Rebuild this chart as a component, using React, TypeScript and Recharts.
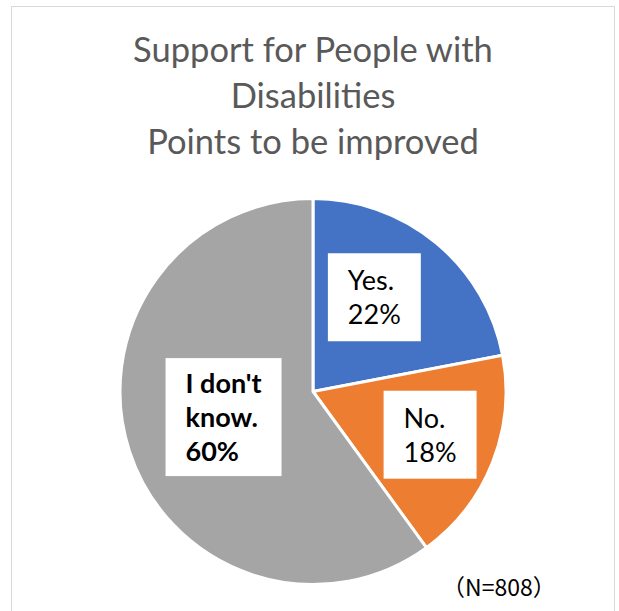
import { PieChart, Pie, Cell } from "recharts";

const categories = ["Yes.", "No.", "I don't know."];
const shares = [22, 18, 60];
const titleLines = ["Support for People with", "Disabilities", "Points to be improved"];
const sampleNote = "（N=808）";

const COLORS = ["#4472C4", "#ED7D31", "#A5A5A5"];
const BOLD = [false, false, true];
// label box nudges (Excel labels were dragged by hand)
const NUDGE = [
  [-10, -8],
  [13, 2],
  [17, -9],
];

const data = categories.map((name, i) => ({ name, value: shares[i] }));

const RADIAN = Math.PI / 180;
const LABEL_FONT = 27;
const LINE_H = 34;

let ctx: CanvasRenderingContext2D | null = null;
function textWidth(s: string, bold: boolean) {
  if (!ctx) ctx = document.createElement("canvas").getContext("2d");
  if (!ctx) return s.length * LABEL_FONT * 0.5;
  ctx.font = `${bold ? "bold " : ""}${LABEL_FONT}px Lato`;
  return ctx.measureText(s).width;
}

function wrap(name: string) {
  const words = name.split(" ");
  const lines: string[] = [];
  let cur = "";
  for (const w of words) {
    const next = cur ? cur + " " + w : w;
    if (next.length > 7 && cur) {
      lines.push(cur);
      cur = w;
    } else cur = next;
  }
  if (cur) lines.push(cur);
  return lines;
}

function renderLabel(props: any) {
  const { cx, cy, midAngle, outerRadius, index, percent, name } = props;
  const r = outerRadius * 0.58;
  const x = cx + r * Math.cos(-midAngle * RADIAN) + NUDGE[index][0];
  const y = cy + r * Math.sin(-midAngle * RADIAN) + NUDGE[index][1];
  const bold = BOLD[index];
  const lines = [...wrap(name), `${Math.round(percent * 100)}%`];
  const w = Math.max(...lines.map((l) => textWidth(l, bold))) + 40;
  const h = lines.length * LINE_H + (lines.length > 2 ? 16 : 20);
  const left = x - w / 2;
  const top = y - h / 2;
  const firstBase = top + h / 2 - ((lines.length - 1) * LINE_H) / 2 + 10;
  return (
    <g key={`lbl-${index}`}>
      <rect x={left} y={top} width={w} height={h} fill="#fff" />
      {lines.map((l, i) => (
        <text
          key={i}
          x={left + 20}
          y={firstBase + i * LINE_H}
          fontFamily="Lato, sans-serif"
          fontSize={LABEL_FONT}
          fontWeight={bold ? 700 : 400}
          fill="#000"
        >
          {l}
        </text>
      ))}
    </g>
  );
}

export default function App() {
  return (
    <div
      style={{
        position: "absolute",
        left: 0,
        top: 0,
        width: 619,
        height: 611,
        overflow: "hidden",
        background: "#fff",
      }}
    >
      <div
        style={{
          position: "absolute",
          left: 11,
          top: 6,
          width: 602,
          height: 640,
          border: "1px solid #d9d9d9",
        }}
      />
      <svg
        width={619}
        height={180}
        style={{ position: "absolute", left: 0, top: 0 }}
      >
        {titleLines.map((t, i) => (
          <text
            key={t}
            x={313}
            y={62 + i * 46}
            textAnchor="middle"
            fontFamily="Lato, sans-serif"
            fontSize={34.5}
            fill="#595959"
          >
            {t}
          </text>
        ))}
      </svg>
      <div style={{ position: "absolute", left: 0, top: 0 }}>
        <PieChart
          width={619}
          height={611}
          margin={{ top: 0, right: 0, bottom: 0, left: 0 }}
        >
          <Pie
            data={data}
            dataKey="value"
            nameKey="name"
            cx={313}
            cy={391.5}
            outerRadius={193}
            startAngle={90}
            endAngle={-270}
            stroke="#fff"
            strokeWidth={3}
            label={renderLabel}
            labelLine={false}
            isAnimationActive={false}
          >
            {data.map((d, i) => (
              <Cell key={d.name} fill={COLORS[i]} />
            ))}
          </Pie>
        </PieChart>
      </div>
      <div
        style={{
          position: "absolute",
          left: 442,
          top: 569,
          fontFamily: "'Noto Sans CJK JP', sans-serif",
          fontSize: 23,
          color: "#000",
          lineHeight: "34px",
          whiteSpace: "nowrap",
        }}
      >
        {sampleNote}
      </div>
    </div>
  );
}
